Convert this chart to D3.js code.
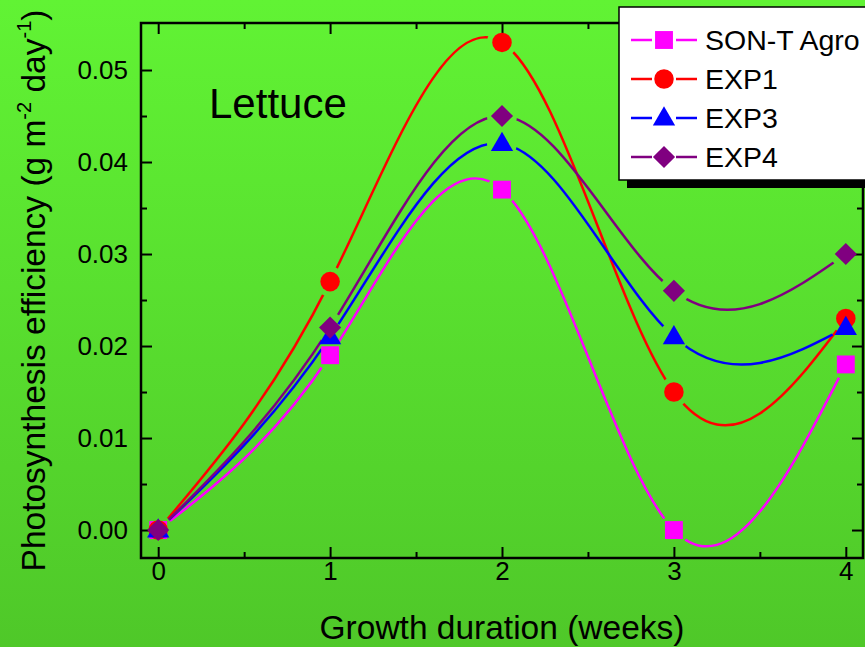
<!DOCTYPE html>
<html>
<head>
<meta charset="utf-8">
<script src="https://cdn.jsdelivr.net/npm/d3@7"></script>
<style>
  body { margin: 0; background: #fff; }
  svg { display: block; font-family: Arial, "Liberation Sans", sans-serif; }
  .axis path { display: none; }
  .axis line { stroke: #000; stroke-width: 2; }
  .axis text { font-size: 26px; fill: #000; }
</style>
</head>
<body>
<svg id="chart" width="865" height="647"></svg>
<script>
// data
const weeks = [0, 1, 2, 3, 4];
const sonT = [0, 0.019, 0.037, 0.000, 0.018];
const exp1 = [0, 0.027, 0.053, 0.015, 0.023];
const exp3 = [0, 0.021, 0.042, 0.021, 0.022];
const exp4 = [0, 0.022, 0.045, 0.026, 0.030];
const seriesNames = ["SON-T Agro", "EXP1", "EXP3", "EXP4"];
const xTicks = [0, 1, 2, 3, 4];
const yTicks = [0, 0.01, 0.02, 0.03, 0.04, 0.05];

const series = [
  { name: seriesNames[0], values: sonT, color: "#ff00ff", shape: "square" },
  { name: seriesNames[1], values: exp1, color: "#ff0000", shape: "circle" },
  { name: seriesNames[2], values: exp3, color: "#0000ff", shape: "triangle" },
  { name: seriesNames[3], values: exp4, color: "#800080", shape: "diamond" }
];

const W = 865, H = 647;
const plot = { left: 141, top: 23, right: 863, bottom: 558 };

const svg = d3.select("#chart");
const defs = svg.append("defs");

// green background gradient
const grad = defs.append("linearGradient").attr("id", "bg")
  .attr("x1", 0).attr("y1", 0).attr("x2", 0).attr("y2", 1);
grad.append("stop").attr("offset", "0%").attr("stop-color", "#61f334");
grad.append("stop").attr("offset", "100%").attr("stop-color", "#4fc829");
svg.append("rect").attr("width", W).attr("height", H).attr("fill", "url(#bg)");

const x = d3.scaleLinear().domain([-0.1, 4.1]).range([plot.left, plot.right]);
const y = d3.scaleLinear().domain([-0.00304, 0.05511]).range([plot.bottom, plot.top]);

const minorX = d3.range(0.5, 4, 1);
const minorY = d3.range(0.005, 0.055, 0.01);

// ticks, all pointing inward
svg.append("g").attr("class", "axis")
  .attr("transform", `translate(0,${plot.bottom})`)
  .call(d3.axisBottom(x).tickValues(xTicks).tickSize(-11).tickPadding(4).tickFormat(d3.format("d")));
svg.append("g").attr("class", "axis")
  .attr("transform", `translate(0,${plot.bottom})`)
  .call(d3.axisBottom(x).tickValues(minorX).tickSize(-6).tickFormat(""));
svg.append("g").attr("class", "axis")
  .attr("transform", `translate(0,${plot.top})`)
  .call(d3.axisTop(x).tickValues(xTicks).tickSize(-11).tickFormat(""));
svg.append("g").attr("class", "axis")
  .attr("transform", `translate(0,${plot.top})`)
  .call(d3.axisTop(x).tickValues(minorX).tickSize(-6).tickFormat(""));

svg.append("g").attr("class", "axis")
  .attr("transform", `translate(${plot.left},0)`)
  .call(d3.axisLeft(y).tickValues(yTicks).tickSize(-11).tickPadding(13).tickFormat(d3.format(".2f")));
svg.append("g").attr("class", "axis")
  .attr("transform", `translate(${plot.left},0)`)
  .call(d3.axisLeft(y).tickValues(minorY).tickSize(-6).tickFormat(""));
svg.append("g").attr("class", "axis")
  .attr("transform", `translate(${plot.right},0)`)
  .call(d3.axisRight(y).tickValues(yTicks).tickSize(-11).tickFormat(""));
svg.append("g").attr("class", "axis")
  .attr("transform", `translate(${plot.right},0)`)
  .call(d3.axisRight(y).tickValues(minorY).tickSize(-6).tickFormat(""));

// frame
svg.append("rect")
  .attr("x", plot.left).attr("y", plot.top)
  .attr("width", plot.right - plot.left).attr("height", plot.bottom - plot.top)
  .attr("fill", "none").attr("stroke", "#000").attr("stroke-width", 2.5);

// marker shapes
function markerPath(shape) {
  if (shape === "square") return d3.symbol(d3.symbolSquare, 320)();
  if (shape === "circle") return d3.symbol(d3.symbolCircle, 300)();
  if (shape === "triangle") return d3.symbol(d3.symbolTriangle, 215)();
  return d3.symbol(d3.symbolSquare, 245)();
}
function markerTransform(shape) {
  if (shape === "diamond") return " rotate(45)";
  if (shape === "triangle") return " translate(0,1)";
  return "";
}

const line = d3.line()
  .x((d, i) => x(weeks[i]))
  .y(d => y(d))
  .curve(d3.curveNatural);

series.forEach((s, si) => {
  // line has a gap around each symbol
  const mask = defs.append("mask").attr("id", "gap" + si)
    .attr("maskUnits", "userSpaceOnUse")
    .attr("x", 0).attr("y", 0).attr("width", W).attr("height", H);
  mask.append("rect").attr("width", W).attr("height", H).attr("fill", "#fff");
  mask.selectAll("circle").data(s.values).join("circle")
    .attr("cx", (d, i) => x(weeks[i]))
    .attr("cy", d => y(d))
    .attr("r", 15)
    .attr("fill", "#000");

  svg.append("path")
    .datum(s.values)
    .attr("d", line)
    .attr("fill", "none")
    .attr("stroke", s.color)
    .attr("stroke-width", 2.5)
    .attr("mask", `url(#gap${si})`);
});

series.forEach(s => {
  svg.append("g").selectAll("path").data(s.values).join("path")
    .attr("d", markerPath(s.shape))
    .attr("transform", (d, i) => `translate(${x(weeks[i])},${y(d)})` + markerTransform(s.shape))
    .attr("fill", s.color);
});

// annotation
svg.append("text")
  .attr("x", 209).attr("y", 118)
  .attr("font-size", 42)
  .text("Lettuce");

// axis titles
svg.append("text")
  .attr("x", (plot.left + plot.right) / 2).attr("y", 639)
  .attr("text-anchor", "middle")
  .attr("font-size", 33.5)
  .text("Growth duration (weeks)");

const yTitle = svg.append("text")
  .attr("transform", `translate(45,${(plot.top + plot.bottom) / 2}) rotate(-90)`)
  .attr("text-anchor", "middle")
  .attr("font-size", 33.5);
yTitle.append("tspan").text("Photosynthesis efficiency (g m");
yTitle.append("tspan").attr("dy", -14).attr("font-size", 20).text("-2");
yTitle.append("tspan").attr("dy", 14).text(" day");
yTitle.append("tspan").attr("dy", -14).attr("font-size", 20).text("-1");
yTitle.append("tspan").attr("dy", 14).text(")");

// legend with drop shadow
const lg = svg.append("g").attr("transform", "translate(619,7)");
lg.append("rect").attr("x", 8).attr("y", 8).attr("width", 300).attr("height", 173).attr("fill", "#000");
lg.append("rect").attr("width", 300).attr("height", 173)
  .attr("fill", "#fff").attr("stroke", "#000").attr("stroke-width", 1.5);

const rowY = d3.scalePoint().domain(seriesNames).range([33, 150]);
series.forEach(s => {
  const row = lg.append("g").attr("transform", `translate(0,${rowY(s.name)})`);
  row.append("line").attr("x1", 12).attr("x2", 33)
    .attr("stroke", s.color).attr("stroke-width", 2.5);
  row.append("line").attr("x1", 57).attr("x2", 78)
    .attr("stroke", s.color).attr("stroke-width", 2.5);
  row.append("path")
    .attr("d", markerPath(s.shape))
    .attr("transform", "translate(45,0)" + markerTransform(s.shape))
    .attr("fill", s.color);
  row.append("text").attr("x", 86).attr("y", 10)
    .attr("font-size", 28.5)
    .text(s.name);
});
</script>
</body>
</html>
